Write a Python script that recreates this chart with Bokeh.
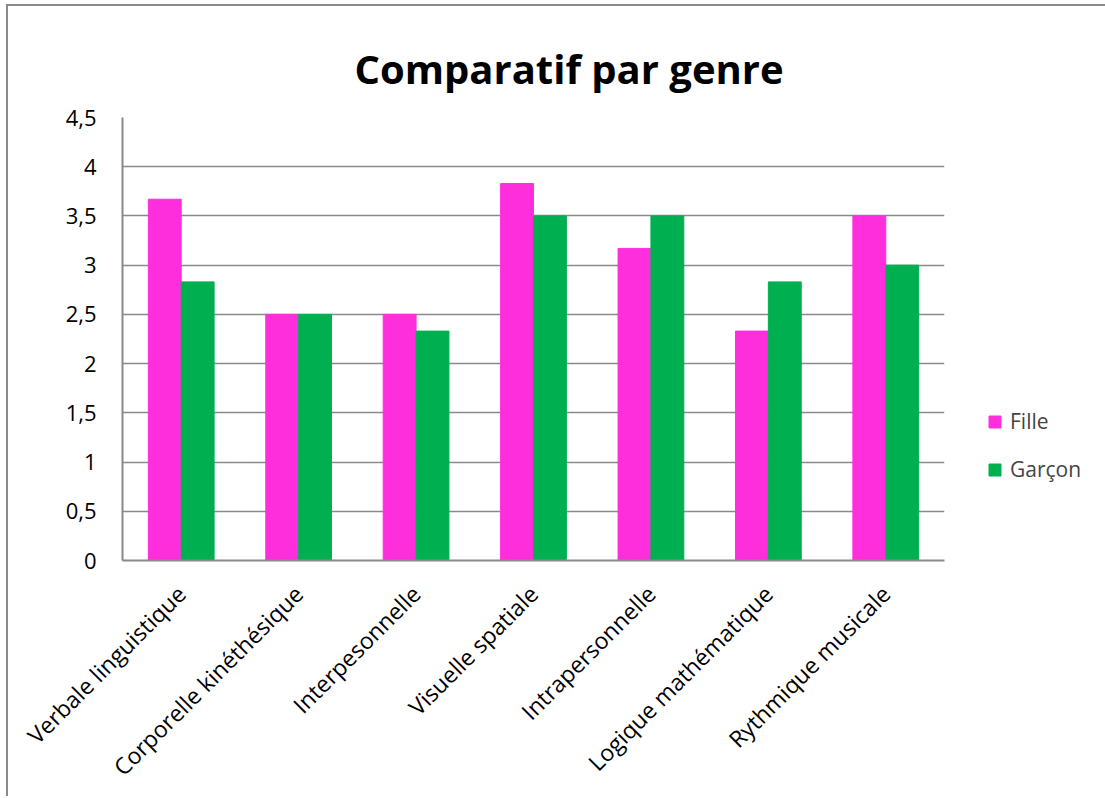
import math
from bokeh.plotting import figure
from bokeh.models import (FactorRange, Range1d, FixedTicker, Legend, LegendItem,
                          ColumnDataSource, Title)
from bokeh.transform import dodge
from bokeh.embed import file_html
from bokeh.resources import INLINE

categories = ["Verbale linguistique", "Corporelle kinéthésique", "Interpesonnelle",
              "Visuelle spatiale", "Intrapersonnelle", "Logique mathématique",
              "Rythmique musicale"]
fille = [3.67, 2.5, 2.5, 3.83, 3.17, 2.33, 3.5]
garcon = [2.83, 2.5, 2.33, 3.5, 3.5, 2.83, 3.0]
series_names = ["Fille", "Garçon"]
y_ticks = [0, 0.5, 1, 1.5, 2, 2.5, 3, 3.5, 4, 4.5]
y_tick_labels = ["0", "0,5", "1", "1,5", "2", "2,5", "3", "3,5", "4", "4,5"]
title_text = "Comparatif par genre"

FONT = "Open Sans"
PINK = "#FF2EDD"
GREEN = "#00B050"
GRID = "#8a8a8a"

src = ColumnDataSource(dict(cat=categories, fille=fille, garcon=garcon))

p = figure(x_range=FactorRange(*categories), y_range=Range1d(0, 4.5),
           frame_width=822, frame_height=443, output_backend="svg",
           toolbar_location=None,
           min_border_left=114, min_border_right=149, min_border_top=111,
           min_border_bottom=227)
p.styles = {"border-left": "2px solid #8a8a8a", "border-top": "2px solid #8a8a8a",
            "margin-left": "6px", "margin-top": "4px"}
p.outline_line_color = None
p.x_range.range_padding = 0
p.x_range.group_padding = 0

r1 = p.vbar(x=dodge("cat", -0.14, range=p.x_range), top="fille", width=0.28,
            source=src, fill_color=PINK, line_color=PINK)
r2 = p.vbar(x=dodge("cat", 0.14, range=p.x_range), top="garcon", width=0.28,
            source=src, fill_color=GREEN, line_color=GREEN)

p.title = Title(text=title_text, align="left", text_font=FONT,
                text_font_size="40px", text_font_style="bold", text_color="black",
                standoff=43, offset=232)

p.yaxis.ticker = FixedTicker(ticks=y_ticks)
p.yaxis.major_label_overrides = {t: l for t, l in zip(y_ticks, y_tick_labels)}
for ax in (p.xaxis, p.yaxis):
    ax.axis_line_color = GRID
    ax.axis_line_width = 2
    ax.major_tick_line_color = None
    ax.minor_tick_line_color = None
    ax.major_label_text_font = FONT
    ax.major_label_text_color = "black"
p.yaxis.major_label_text_font_size = "22px"
p.xaxis.major_label_text_font_size = "23px"
p.yaxis.major_label_standoff = 20
p.xaxis.major_label_orientation = math.pi / 4
p.xaxis.major_label_standoff = 23

p.xgrid.grid_line_color = None
p.ygrid.grid_line_color = GRID
p.ygrid.grid_line_width = 1.5

legend = Legend(items=[LegendItem(label=series_names[0], renderers=[r1]),
                       LegendItem(label=series_names[1], renderers=[r2])],
                location=(43, 77), orientation="vertical",
                glyph_width=15, glyph_height=15, label_height=15,
                label_standoff=8, spacing=20, padding=0, margin=0,
                border_line_color=None, background_fill_alpha=0,
                label_text_font=FONT, label_text_font_size="21px")
p.add_layout(legend, "right")

open("out.html", "w").write(file_html(p, INLINE))
